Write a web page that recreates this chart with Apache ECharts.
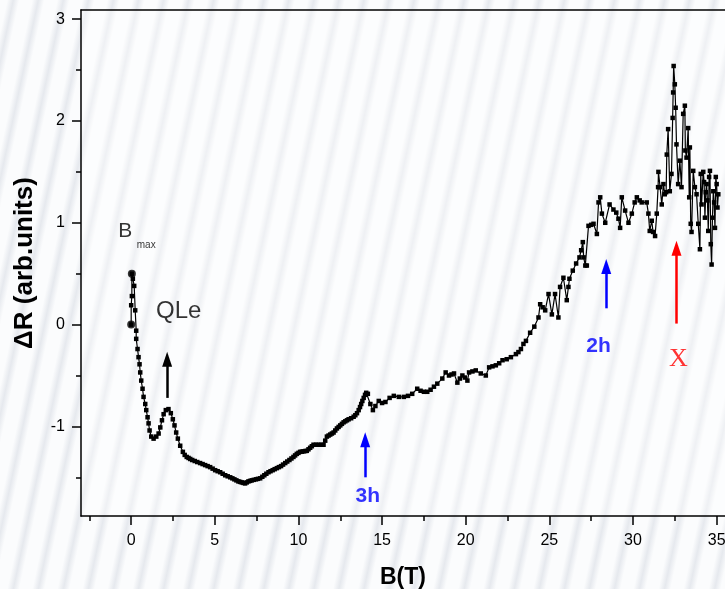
<!DOCTYPE html>
<html>
<head>
<meta charset="utf-8">
<script src="https://cdn.jsdelivr.net/npm/echarts@6/dist/echarts.min.js"></script>
<style>
html,body{margin:0;padding:0;width:725px;height:589px;overflow:hidden;
background:repeating-linear-gradient(102deg,#fbfcfd 0px,#fbfcfd 7px,#e6e9ee 13px,#fbfcfd 19px,#fbfcfd 24.5px);}
#c{position:absolute;left:0;top:0;width:725px;height:589px;}
</style>
</head>
<body>
<div id="c"></div>
<script>
// magnetic field B (T)
const fieldB = [0,0,0.04,0.04,0.10,0.18,0.24,0.30,0.30,0.38,0.44,0.50,0.54,0.60,0.68,0.74,0.84,0.90,0.98,1.04,1.10,1.20,1.34,1.50,1.64,1.74,1.84,1.94,2.07,2.23,2.37,2.49,2.59,2.69,2.79,2.93,3.09,3.2,3.32,3.43,3.53,3.65,3.8,3.95,4.12,4.27,4.42,4.57,4.72,4.87,5.02,5.17,5.32,5.47,5.62,5.77,5.92,6.05,6.17,6.29,6.41,6.51,6.61,6.71,6.81,6.91,7.01,7.11,7.21,7.33,7.46,7.58,7.71,7.84,7.96,8.08,8.21,8.33,8.46,8.58,8.71,8.83,8.96,9.08,9.21,9.33,9.46,9.58,9.70,9.8,9.9,10.0,10.1,10.2,10.3,10.4,10.5,10.6,10.7,10.8,10.9,11.05,11.2,11.35,11.5,11.6,11.7,11.8,11.9,12.0,12.1,12.2,12.3,12.4,12.5,12.6,12.7,12.8,12.9,13.0,13.15,13.3,13.4,13.5,13.6,13.68,13.75,13.82,13.9,13.98,14.05,14.15,14.3,14.45,14.6,14.8,15.0,15.2,15.45,15.7,16.0,16.3,16.55,16.8,17.1,17.3,17.5,17.7,17.9,18.1,18.3,18.6,18.8,19.0,19.15,19.3,19.5,19.65,19.8,19.95,20.1,20.2,20.4,20.6,20.9,21.2,21.4,21.6,21.8,22.0,22.2,22.45,22.7,23.0,23.15,23.3,23.45,23.6,23.85,24.1,24.35,24.45,24.6,24.75,24.95,25.15,25.34,25.54,25.64,25.84,26.04,26.14,26.2,26.4,26.6,26.8,26.9,27.0,27.05,27.15,27.24,27.34,27.5,27.64,27.84,27.94,28.04,28.14,28.34,28.6,28.83,29.0,29.13,29.23,29.33,29.53,29.73,29.93,30.1,30.23,30.4,30.52,30.82,30.92,31.0,31.12,31.2,31.32,31.42,31.5,31.52,31.62,31.72,31.82,31.9,31.98,32.02,32.1,32.2,32.3,32.37,32.4,32.43,32.5,32.55,32.6,32.7,32.8,32.9,33.0,33.1,33.13,33.2,33.3,33.36,33.4,33.45,33.5,33.6,33.7,33.8,33.9,34.0,34.05,34.1,34.2,34.25,34.3,34.35,34.4,34.45,34.5,34.55,34.6,34.65,34.7,34.75,34.8,34.85,34.9,34.95,35.0,35.05,35.1];
// magnetoresistance change (arb. units)
const deltaR = [0.0,0.19,0.28,0.50,0.45,0.38,0.14,-0.06,-0.14,-0.24,-0.32,-0.39,-0.47,-0.55,-0.63,-0.71,-0.78,-0.84,-0.91,-0.97,-1.04,-1.10,-1.12,-1.10,-1.07,-1.01,-0.94,-0.88,-0.84,-0.83,-0.87,-0.93,-0.99,-1.06,-1.12,-1.19,-1.25,-1.28,-1.30,-1.31,-1.32,-1.33,-1.34,-1.35,-1.36,-1.37,-1.38,-1.39,-1.40,-1.415,-1.43,-1.44,-1.45,-1.465,-1.48,-1.49,-1.50,-1.51,-1.52,-1.53,-1.54,-1.545,-1.55,-1.555,-1.56,-1.55,-1.54,-1.535,-1.53,-1.525,-1.52,-1.515,-1.51,-1.495,-1.48,-1.465,-1.45,-1.44,-1.43,-1.42,-1.41,-1.40,-1.39,-1.375,-1.36,-1.345,-1.33,-1.315,-1.30,-1.285,-1.27,-1.26,-1.25,-1.248,-1.245,-1.242,-1.24,-1.225,-1.21,-1.195,-1.18,-1.18,-1.18,-1.18,-1.18,-1.14,-1.10,-1.09,-1.08,-1.07,-1.06,-1.04,-1.02,-1.005,-0.99,-0.975,-0.96,-0.95,-0.94,-0.93,-0.92,-0.905,-0.89,-0.87,-0.84,-0.81,-0.78,-0.75,-0.72,-0.69,-0.67,-0.68,-0.78,-0.84,-0.80,-0.75,-0.77,-0.76,-0.72,-0.70,-0.71,-0.71,-0.70,-0.68,-0.63,-0.65,-0.66,-0.66,-0.64,-0.61,-0.58,-0.53,-0.47,-0.50,-0.49,-0.48,-0.57,-0.53,-0.50,-0.52,-0.55,-0.47,-0.46,-0.45,-0.48,-0.50,-0.42,-0.41,-0.40,-0.38,-0.35,-0.34,-0.32,-0.29,-0.27,-0.24,-0.19,-0.16,-0.08,-0.02,0.07,0.20,0.17,0.14,0.30,0.10,0.30,0.07,0.37,0.46,0.24,0.37,0.45,0.53,0.60,0.66,0.73,0.81,0.66,0.58,0.58,0.97,0.98,0.99,0.89,1.20,1.25,1.09,1.00,1.18,1.13,1.10,1.04,0.95,1.25,1.12,1.00,1.09,1.20,1.25,1.22,1.20,1.20,1.09,0.92,1.02,0.91,0.87,1.09,1.35,1.50,1.35,1.18,1.38,1.28,1.30,1.67,1.92,1.31,1.48,2.03,2.28,2.54,2.36,2.13,1.77,1.38,1.61,1.35,2.07,2.15,1.71,1.64,1.93,1.25,1.74,0.99,0.91,1.51,1.35,1.28,0.99,0.74,1.48,1.18,1.50,1.40,1.05,1.30,1.38,1.22,0.92,1.45,1.51,0.79,0.59,1.05,1.31,1.20,0.95,1.45,1.38,1.15,1.28];
// the two enlarged starting points
const bigB = [0, 0.04];
const bigR = [0.0, 0.50];

// axis ticks
const xMajorTicks = [0,5,10,15,20,25,30,35];
const xMinorTicks = [-2.5,2.5,7.5,12.5,17.5,22.5,27.5,32.5];
const yMajorTicks = [-1,0,1,2,3];
const yMinorTicks = [-1.5,-0.5,0.5,1.5,2.5];

// annotation arrows
const arrowB     = [2.15, 13.99, 28.4, 32.6];
const arrowTail  = [-0.72, -1.5, 0.16, 0.01];
const arrowHead  = [-0.34, -1.13, 0.57, 0.75];
const arrowColor = ['#000000', '#0000ff', '#0000ff', '#ff0000'];

// annotation texts
const noteText  = ['B', 'max', 'QLe', '3h', '2h', 'X'];
const noteB     = [-0.36, 0.9, 2.84, 14.14, 27.94, 32.72];
const noteR     = [0.92, 0.78, 0.127, -1.69, -0.21, -0.34];
const noteColor = ['#000', '#000', '#000', '#0000ff', '#0000ff', '#ff0000'];
const noteSize  = [21, 10, 24, 21, 21, 26];
const noteWeight= ['normal','normal','normal','bold','bold','normal'];
const noteFont  = ['Liberation Sans','Liberation Sans','Liberation Sans','Liberation Sans','Liberation Sans','Liberation Serif'];

const mainData = fieldB.map((b, i) => [b, deltaR[i]]);
const bigData = bigB.map((b, i) => [b, bigR[i]]);

const arrowLines = arrowB.map((b, i) => [
  {coord: [b, arrowTail[i]], symbol: 'none', lineStyle: {color: arrowColor[i]}},
  {coord: [b, arrowHead[i]], symbol: 'triangle', symbolSize: [10, 15], itemStyle: {color: arrowColor[i]}, lineStyle: {color: arrowColor[i]}}
]);

const noteData = noteText.map((t, i) => ({
  value: [noteB[i], noteR[i]],
  itemStyle: {color: noteColor[i]},
  label: {show: true, position: 'inside', formatter: t, color: noteColor[i],
          textBorderWidth: 0, textShadowBlur: 0,
          fontSize: noteSize[i], fontWeight: noteWeight[i], fontFamily: noteFont[i]}
}));

const xMin = -3, xMax = 35.5, yMin = -1.88, yMax = 3.09;
const font = 'Liberation Sans';

const chart = echarts.init(document.getElementById('c'), null, {renderer: 'canvas', width: 725, height: 589});
chart.setOption({
  backgroundColor: 'transparent',
  animation: false,
  grid: {left: 81, right: 0, top: 10, bottom: 73, containLabel: false, outerBoundsMode: 'none',
         show: true, backgroundColor: 'rgba(255,255,255,0.35)', borderWidth: 0},
  xAxis: [
    {type: 'value', min: xMin, max: xMax, position: 'bottom',
     axisLine: {show: true, onZero: false, lineStyle: {color: '#000', width: 1.5}},
     axisTick: {show: true, inside: false, length: 9, customValues: xMajorTicks, lineStyle: {color: '#000', width: 1.5}},
     axisLabel: {show: true, customValues: xMajorTicks, margin: 17, fontSize: 16, color: '#000', fontFamily: font},
     splitLine: {show: false},
     name: 'B(T)', nameLocation: 'middle', nameGap: 50,
     nameTextStyle: {fontSize: 23, fontWeight: 'bold', color: '#000', fontFamily: font}},
    {type: 'value', min: xMin, max: xMax, position: 'bottom',
     axisLine: {show: false, onZero: false},
     axisTick: {show: true, inside: false, length: 5, customValues: xMinorTicks, lineStyle: {color: '#000', width: 1.5}},
     axisLabel: {show: false}, splitLine: {show: false}},
    {type: 'value', min: xMin, max: xMax, position: 'top',
     axisLine: {show: true, onZero: false, lineStyle: {color: '#000', width: 1.5}},
     axisTick: {show: false}, axisLabel: {show: false}, splitLine: {show: false}}
  ],
  yAxis: [
    {type: 'value', min: yMin, max: yMax, position: 'left',
     axisLine: {show: true, onZero: false, lineStyle: {color: '#000', width: 1.5}},
     axisTick: {show: true, inside: false, length: 9, customValues: yMajorTicks, lineStyle: {color: '#000', width: 1.5}},
     axisLabel: {show: true, customValues: yMajorTicks, margin: 16, fontSize: 16, color: '#000', fontFamily: font},
     splitLine: {show: false},
     name: 'ΔR (arb.units)', nameLocation: 'middle', nameGap: 43,
     nameTextStyle: {fontSize: 26, fontWeight: 'bold', color: '#000', fontFamily: font}},
    {type: 'value', min: yMin, max: yMax, position: 'left',
     axisLine: {show: false, onZero: false},
     axisTick: {show: true, inside: false, length: 5, customValues: yMinorTicks, lineStyle: {color: '#000', width: 1.5}},
     axisLabel: {show: false}, splitLine: {show: false}}
  ],
  series: [
    {type: 'line', name: 'dR', data: mainData, xAxisIndex: 0, yAxisIndex: 0,
     symbol: 'rect', symbolSize: 4.5, showAllSymbol: true,
     lineStyle: {color: '#000', width: 1.2}, itemStyle: {color: '#000'},
     silent: true, z: 3},
    {type: 'scatter', name: 'start', data: bigData, symbol: 'circle', symbolSize: 8,
     itemStyle: {color: '#000'}, silent: true, z: 4},
    {type: 'scatter', name: 'notes', data: noteData, symbolSize: 0, silent: true, z: 5,
     markLine: {silent: true, animation: false, symbol: ['none', 'triangle'],
       label: {show: false}, lineStyle: {type: 'solid', width: 2.5},
       data: arrowLines}}
  ]
});
</script>
</body>
</html>
